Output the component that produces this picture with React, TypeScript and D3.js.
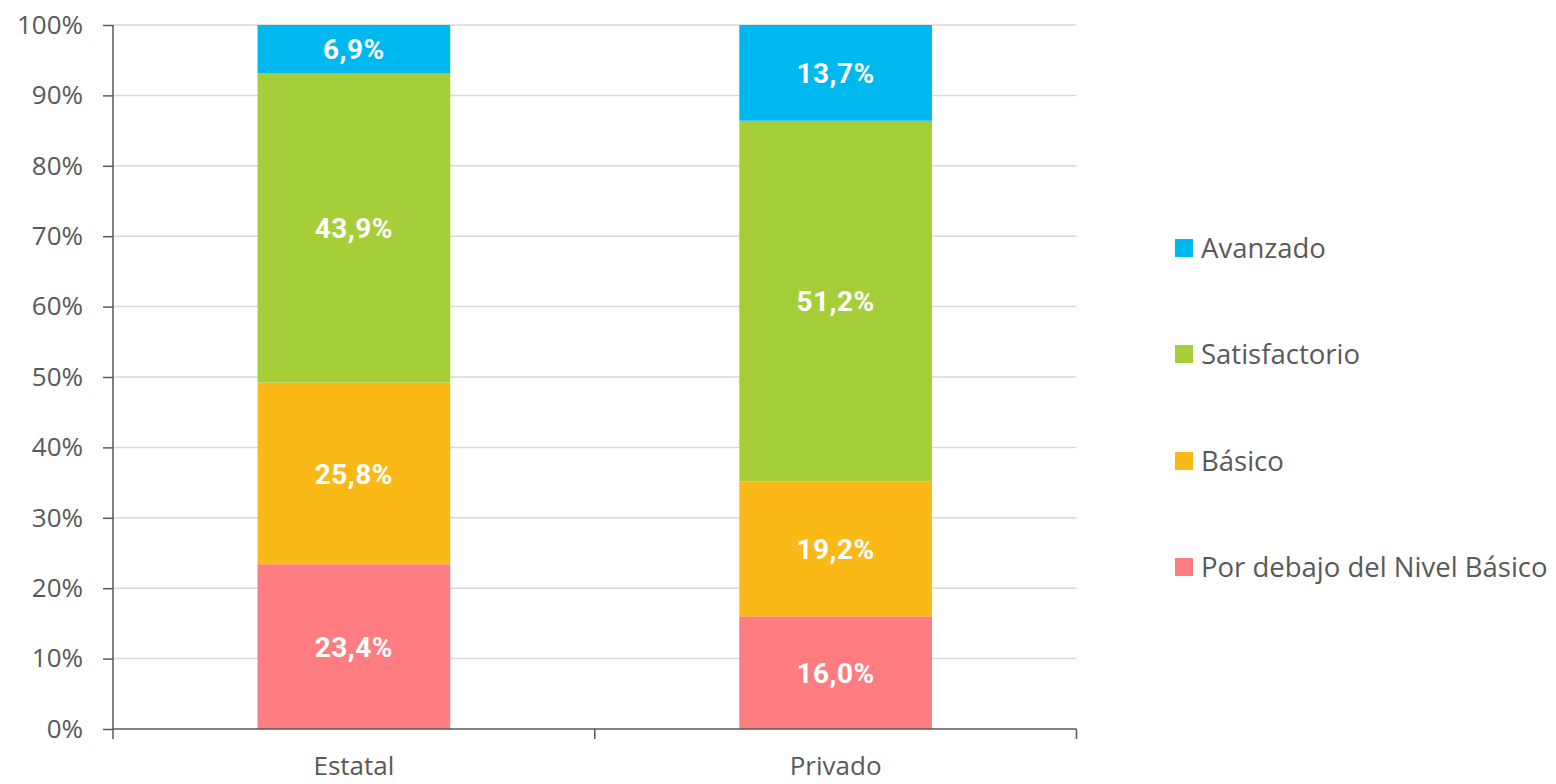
import { useEffect, useRef } from "react";
import * as d3 from "d3";

const categories = ["Estatal", "Privado"];
const levels = ["Por debajo del Nivel Básico", "Básico", "Satisfactorio", "Avanzado"];
const porDebajo = [23.4, 16.0];
const basico = [25.8, 19.2];
const satisfactorio = [43.9, 51.2];
const avanzado = [6.9, 13.7];
const yTicks = [0, 10, 20, 30, 40, 50, 60, 70, 80, 90, 100];
const colors = ["#FF7C80", "#FBB918", "#A6CE39", "#00B8F0"];

function App() {
  const ref = useRef<SVGSVGElement>(null);

  const width = 1556;
  const height = 784;
  const margin = { top: 25, right: 480, bottom: 55, left: 113 };

  useEffect(() => {
    const svg = d3.select(ref.current);
    svg.selectAll("*").remove();

    const series = [porDebajo, basico, satisfactorio, avanzado];
    const rows = categories.map((c, i) => {
      const r: any = { cat: c };
      levels.forEach((l, j) => (r[l] = series[j][i]));
      return r;
    });
    const stacked = d3.stack().keys(levels)(rows);

    const x = d3.scaleBand()
      .domain(categories)
      .range([margin.left, width - margin.right + 0.5])
      .padding(0);
    const barW = x.bandwidth() * 0.4;

    const y = d3.scaleLinear()
      .domain([0, 100])
      .range([height - margin.bottom, margin.top]);

    // gridlines
    svg.append("g")
      .selectAll("line")
      .data(yTicks.slice(1))
      .enter()
      .append("line")
      .attr("x1", margin.left)
      .attr("x2", width - margin.right + 0.5)
      .attr("y1", d => y(d))
      .attr("y2", d => y(d))
      .attr("stroke", "#d9d9d9")
      .attr("stroke-width", 1.5);

    const color = d3.scaleOrdinal<string>().domain(levels).range(colors);

    const layer = svg.append("g")
      .selectAll("g")
      .data(stacked)
      .enter()
      .append("g")
      .attr("fill", d => color(d.key));

    layer.selectAll("rect")
      .data(d => d)
      .enter()
      .append("rect")
      .attr("x", d => x(d.data.cat as string)! + (x.bandwidth() - barW) / 2)
      .attr("width", barW)
      .attr("y", d => y(Math.min(d[1], 100)))
      .attr("height", d => y(d[0]) - y(Math.min(d[1], 100)));

    layer.selectAll("text")
      .data(d => d)
      .enter()
      .append("text")
      .attr("x", d => x(d.data.cat as string)! + x.bandwidth() / 2)
      .attr("y", d => (y(d[0]) + y(Math.min(d[1], 100))) / 2)
      .attr("dy", "0.36em")
      .attr("text-anchor", "middle")
      .attr("fill", "white")
      .style("font-family", "'Roboto', sans-serif")
      .style("font-weight", "bold")
      .style("font-size", "28px")
      .style("letter-spacing", "0.5px")
      .text(d => (d[1] - d[0]).toFixed(1).replace(".", ",") + "%");

    // y axis
    const yAxis = svg.append("g")
      .attr("transform", `translate(${margin.left},0)`)
      .call(d3.axisLeft(y).tickValues(yTicks).tickSize(10).tickFormat(d => `${d}%`));
    yAxis.selectAll("path, line").attr("stroke", "#595959").attr("stroke-width", 1.5);
    yAxis.selectAll("text")
      .attr("fill", "#595959")
      .attr("x", -30)
      .style("font-family", "'Open Sans', sans-serif")
      .style("font-size", "26px");
    yAxis.select(".domain").attr("d", `M0,${y(100)}V${y(0) + 10}`);

    // x axis
    const xAxis = svg.append("g")
      .attr("transform", `translate(0,${y(0)})`)
      .call(d3.axisBottom(x).tickSize(0));
    xAxis.select(".domain").attr("stroke", "#595959").attr("stroke-width", 1.5)
      .attr("d", `M${margin.left},0H${width - margin.right + 0.5}`);
    xAxis.selectAll("text")
      .attr("fill", "#595959")
      .attr("y", 28)
      .attr("dy", "0.71em")
      .style("font-family", "'Open Sans', sans-serif")
      .style("font-size", "26px");
    const bounds = [margin.left + x.bandwidth(), width - margin.right + 0.5];
    xAxis.selectAll(".sep")
      .data(bounds)
      .enter()
      .append("line")
      .attr("x1", d => d)
      .attr("x2", d => d)
      .attr("y1", 0)
      .attr("y2", 10)
      .attr("stroke", "#595959")
      .attr("stroke-width", 1.5);

    // legend
    const legendY = [248, 354, 461, 567];
    const leg = svg.append("g")
      .selectAll("g")
      .data(levels.slice().reverse())
      .enter()
      .append("g")
      .attr("transform", (d, i) => `translate(1175,${legendY[i]})`);
    leg.append("rect")
      .attr("x", 0)
      .attr("y", -9)
      .attr("width", 18)
      .attr("height", 18)
      .attr("fill", d => color(d));
    leg.append("text")
      .attr("x", 26)
      .attr("dy", "0.36em")
      .attr("fill", "#595959")
      .style("font-family", "'Open Sans', sans-serif")
      .style("font-size", "27.5px")
      .text(d => d);
  }, []);

  return (
    <svg ref={ref} width={width} height={height} style={{ position: "absolute", left: 0, top: 0 }}></svg>
  );
}

export default App;
